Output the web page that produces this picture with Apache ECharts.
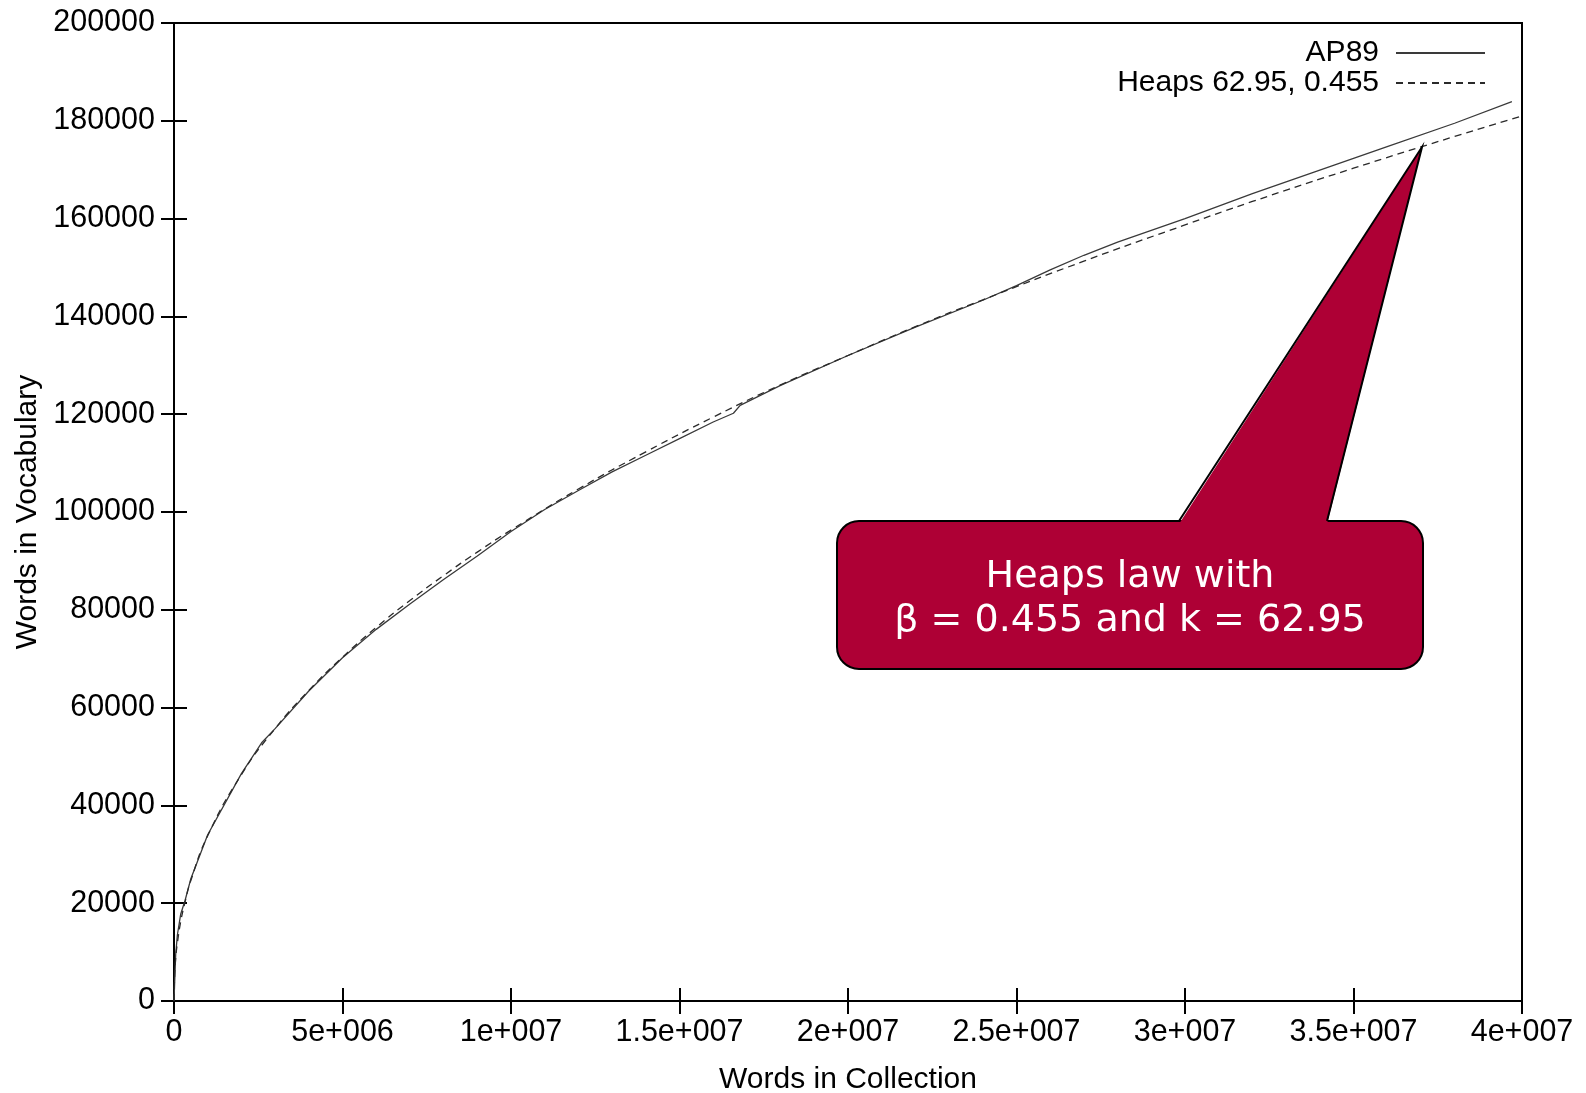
<!DOCTYPE html>
<html><head><meta charset="utf-8">
<script src="https://cdn.jsdelivr.net/npm/echarts@6/dist/echarts.min.js"></script>
<style>html,body{margin:0;padding:0;background:#fff}#c{width:1586px;height:1093px}</style>
</head><body><div id="c"></div>
<script>
// AP89 observed vocabulary growth (words in collection, words in vocabulary)
const ap89N = [0, 5e4, 1e5, 2e5, 3.3e5, 5e5, 1e6, 2e6, 2.6e6, 3e6, 4e6, 5e6, 6e6, 7e6, 8e6, 9e6, 1e7, 1.1e7, 1.2e7, 1.3e7, 1.4e7, 1.5e7, 1.6e7, 1.66e7, 1.68e7, 1.8e7, 2e7, 2.2e7, 2.4e7, 2.5e7, 2.6e7, 2.7e7, 2.8e7, 3e7, 3.2e7, 3.4e7, 3.6e7, 3.8e7, 3.97e7];
const ap89V = [0, 9500, 13500, 17800, 20600, 25000, 34000, 46500, 52800, 55700, 63400, 70200, 76000, 81200, 86200, 91000, 96000, 100500, 104400, 108200, 111600, 115000, 118400, 120200, 121800, 125900, 132000, 137800, 143300, 146300, 149500, 152500, 155200, 160000, 165100, 169900, 174700, 179500, 183900];
// Heaps fit curve
const heapsN = [0, 2e4, 5e4, 1e5, 2e5, 3.2e5, 5e5, 1e6, 2e6, 3e6, 4e6, 5e6, 6e6, 7e6, 8e6, 9e6, 1e7, 1.2e7, 1.4e7, 1.6e7, 1.8e7, 2e7, 2.2e7, 2.4e7, 2.7e7, 3e7, 3.2e7, 3.5e7, 3.8e7, 4e7];
const heapsV = [0, 5400, 8700, 11850, 16250, 20000, 24650, 33800, 46300, 55700, 63500, 70300, 76400, 81900, 87000, 91800, 96300, 104700, 112300, 119400, 126000, 132000, 137900, 143400, 151300, 158700, 163500, 170300, 176800, 181000];
const xTickLabels = ['0', '5e+006', '1e+007', '1.5e+007', '2e+007', '2.5e+007', '3e+007', '3.5e+007', '4e+007'];
const yTickLabels = ['0', '20000', '40000', '60000', '80000', '100000', '120000', '140000', '160000', '180000', '200000'];
const seriesNames = ['AP89', 'Heaps 62.95, 0.455'];

const FONT = 'Liberation Sans';
const chart = echarts.init(document.getElementById('c'), null, {renderer: 'canvas'});
const xTickFmt = v => xTickLabels[Math.round(v / 5e6)];
const yTickFmt = v => yTickLabels[Math.round(v / 20000)];
const tickStyle = {show: true, inside: true, length: 13, lineStyle: {color: '#000', width: 2}};
const CRIMSON = '#AE0035';
chart.setOption({
  animation: false,
  backgroundColor: '#fff',
  grid: {left: 174, right: 64, top: 23, bottom: 92, show: true, borderColor: '#000', borderWidth: 2,
         backgroundColor: 'transparent', outerBoundsMode: 'none', containLabel: false},
  legend: {
    orient: 'vertical', right: 100, top: 38, align: 'right', padding: 0,
    itemWidth: 89, itemHeight: 10, itemGap: 0,
    itemStyle: {color: 'transparent', borderWidth: 0, opacity: 0},
    textStyle: {fontFamily: FONT, fontSize: 30, lineHeight: 29, color: '#000', padding: [0, 12, 0, 0]},
    data: seriesNames
  },
  xAxis: [
    {type: 'value', min: 0, max: 4e7, interval: 5e6, position: 'bottom',
     name: 'Words in Collection', nameLocation: 'middle', nameGap: 64,
     nameTextStyle: {fontFamily: FONT, fontSize: 30, color: '#000'},
     axisLine: {show: false}, axisTick: tickStyle, splitLine: {show: false},
     axisLabel: {formatter: xTickFmt, fontFamily: FONT, fontSize: 30.5, color: '#000', margin: 16}},
    {type: 'value', min: 0, max: 4e7, interval: 5e6, position: 'top',
     axisLine: {show: false}, axisTick: tickStyle, splitLine: {show: false}, axisLabel: {show: false}}
  ],
  yAxis: [
    {type: 'value', min: 0, max: 200000, interval: 20000, position: 'left',
     name: 'Words in Vocabulary', nameLocation: 'middle', nameGap: 129,
     nameTextStyle: {fontFamily: FONT, fontSize: 30, color: '#000'},
     axisLine: {show: false}, axisTick: tickStyle, splitLine: {show: false},
     axisLabel: {formatter: yTickFmt, fontFamily: FONT, fontSize: 30.5, color: '#000', margin: 19}},
    {type: 'value', min: 0, max: 200000, interval: 20000, position: 'right',
     axisLine: {show: false}, axisTick: tickStyle, splitLine: {show: false}, axisLabel: {show: false}}
  ],
  series: [
    {name: seriesNames[0], type: 'line', symbol: 'none', smooth: false,
     data: ap89N.map((n, i) => [n, ap89V[i]]),
     lineStyle: {color: '#3a3a3a', width: 1.3, type: 'solid'}, itemStyle: {color: '#3a3a3a'}},
    {name: seriesNames[1], type: 'line', symbol: 'none', smooth: true,
     data: heapsN.map((n, i) => [n, heapsV[i]]),
     lineStyle: {color: '#2a2a2a', width: 1.3, type: [7, 5]}, itemStyle: {color: '#2a2a2a'}}
  ],
  graphic: [
    {type: 'rect', z: 100, shape: {x: 837, y: 521, width: 586, height: 148, r: 22},
     style: {fill: CRIMSON, stroke: '#000', lineWidth: 2}},
    {type: 'polygon', z: 101, shape: {points: [[1179, 524], [1422, 147], [1327, 524]]},
     style: {fill: CRIMSON, stroke: null}},
    {type: 'polyline', z: 102, shape: {points: [[1179, 521], [1422, 147], [1327, 521]]},
     style: {fill: null, stroke: '#000', lineWidth: 2}},
    {type: 'text', z: 103, x: 1130, y: 577,
     style: {text: 'Heaps law with', font: '38px "DejaVu Sans"', fill: '#fff', align: 'center', verticalAlign: 'middle'}},
    {type: 'text', z: 103, x: 1130, y: 621,
     style: {text: 'β = 0.455 and k = 62.95', font: '38px "DejaVu Sans"', fill: '#fff', align: 'center', verticalAlign: 'middle'}}
  ]
});
</script></body></html>
